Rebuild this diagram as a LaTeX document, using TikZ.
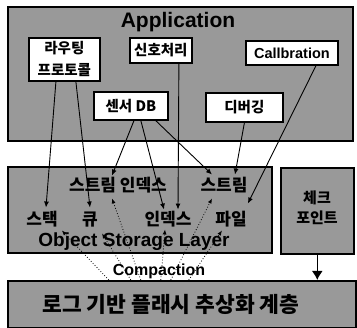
\documentclass[tikz,border=0pt]{standalone}
\usepackage{fontspec}
\setmainfont{Liberation Sans}
\newfontfamily\krfont{Noto Sans CJK KR}
\usetikzlibrary{arrows.meta, positioning}
\definecolor{screen}{gray}{0.6}

\begin{document}
\begin{tikzpicture}[x=1pt, y=-1pt,
  layer/.style={draw, line width=1.6pt, fill=screen, anchor=north west, inner sep=0pt},
  lbl/.style={draw, line width=1.8pt, fill=white, anchor=north west, inner sep=0pt, align=center, font=\krfont\bfseries\fontsize{14.5}{22}\selectfont},
  item/.style={inner sep=1pt, text height=12pt, text depth=2.5pt, font=\krfont\bfseries\fontsize{17}{17}\selectfont},
  arr/.style={-{Latex[length=6pt, width=5pt]}, line width=0.9pt},
  cpt/.style={-{Latex[length=5pt, width=4pt]}, line width=0.8pt, dotted}
]
  \useasboundingbox (0,0) rectangle (357,328);

  % layers
  \node[layer, minimum width=345pt, minimum height=134pt] (app) at (7,6) {};
  \node[layer, minimum width=264pt, minimum height=86pt] (osl) at (7,166) {};
  \node[layer, minimum width=73pt, minimum height=86pt] (chk) at (280,167) {};
  \node[layer, minimum width=348pt, minimum height=47pt] (base) at (7,280) {};

  \node[font=\bfseries\fontsize{21}{21}\selectfont] (title) at (178,22) {Application};
  \node[font=\bfseries\fontsize{19}{19}\selectfont] (osltitle) at (134,242) {Object Storage Layer};
  \node[font=\bfseries\fontsize{16}{16}\selectfont] (compact) at (159,271) {Compaction};
  \node[align=center, font=\krfont\bfseries\fontsize{15}{20}\selectfont] (chktext) at (317,208) {체크\\포인트};
  \node[font=\krfont\bfseries\fontsize{21.5}{21.5}\selectfont] (basetext) at (171,304) {로그 기반 플래시 추상화 계층};

  % application modules
  \node[lbl, minimum width=71pt, minimum height=43pt] (route) at (28,37) {라우팅\\프로토콜};
  \node[lbl, minimum width=62pt, minimum height=25pt] (signal) at (129,37) {신호처리};
  \node[lbl, minimum width=92pt, minimum height=24pt, font=\bfseries\fontsize{14.5}{14.5}\selectfont] (calib) at (245,40) {Callbration};
  \node[lbl, minimum width=74pt, minimum height=28pt] (sensor) at (93,91) {센서 DB};
  \node[lbl, minimum width=77pt, minimum height=29pt] (debug) at (205,92) {디버깅};

  % objects
  \node[item] (sidx) at (118,187) {스트림 인덱스};
  \node[item] (strm) at (224,187) {스트림};
  \node[item] (stack) at (42,221) {스택};
  \node[item] (queue) at (90,221) {큐};
  \node[item] (idx) at (168,221) {인덱스};
  \node[item] (file) at (231,221) {파일};

  \draw[arr] ([xshift=-8.5pt]route.south) -- ([xshift=4pt, yshift=5pt]stack.north);
  \draw[arr] ([xshift=11.5pt]route.south) -- ([yshift=5pt]queue.north);
  \draw[arr] ([xshift=3pt]sensor.south) -- ([xshift=-6pt, yshift=3pt]sidx.north);
  \draw[arr] ([xshift=10pt]sensor.south) -- ([xshift=-4pt, yshift=3pt]idx.north);
  \draw[arr] ([xshift=25pt]sensor.south) -- ([xshift=-12pt, yshift=4pt]strm.north);
  \draw[arr] ([xshift=18pt]signal.south) -- ([xshift=10pt, yshift=3pt]idx.north);
  \draw[arr] (debug.south) -- ([xshift=11pt, yshift=4pt]strm.north);
  \draw[arr] ([xshift=24pt]calib.south) -- ([xshift=0pt, yshift=9pt]file.north east);

  % compaction
  \draw[cpt] ([xshift=-73pt]base.north) -- ([xshift=3pt, yshift=-1pt]stack.south east);
  \draw[cpt] ([xshift=-51pt]base.north) -- ([xshift=3pt, yshift=-4pt]queue.south east);
  \draw[cpt] ([xshift=-41pt]base.north) -- ([xshift=-6pt, yshift=-3pt]sidx.south);
  \draw[cpt] ([xshift=-21pt]base.north) -- ([xshift=-3pt]idx.south);
  \draw[cpt] ([xshift=-11pt]base.north) -- ([xshift=-12pt, yshift=-3pt]strm.south);
  \draw[cpt] ([xshift=7pt]base.north) -- ([xshift=-9pt, yshift=-1pt]file.south);

  \draw[line width=1.5pt, -{Latex[length=9pt, width=11pt]}] (chk.south) -- (chk.south |- base.north);
\end{tikzpicture}
\end{document}
